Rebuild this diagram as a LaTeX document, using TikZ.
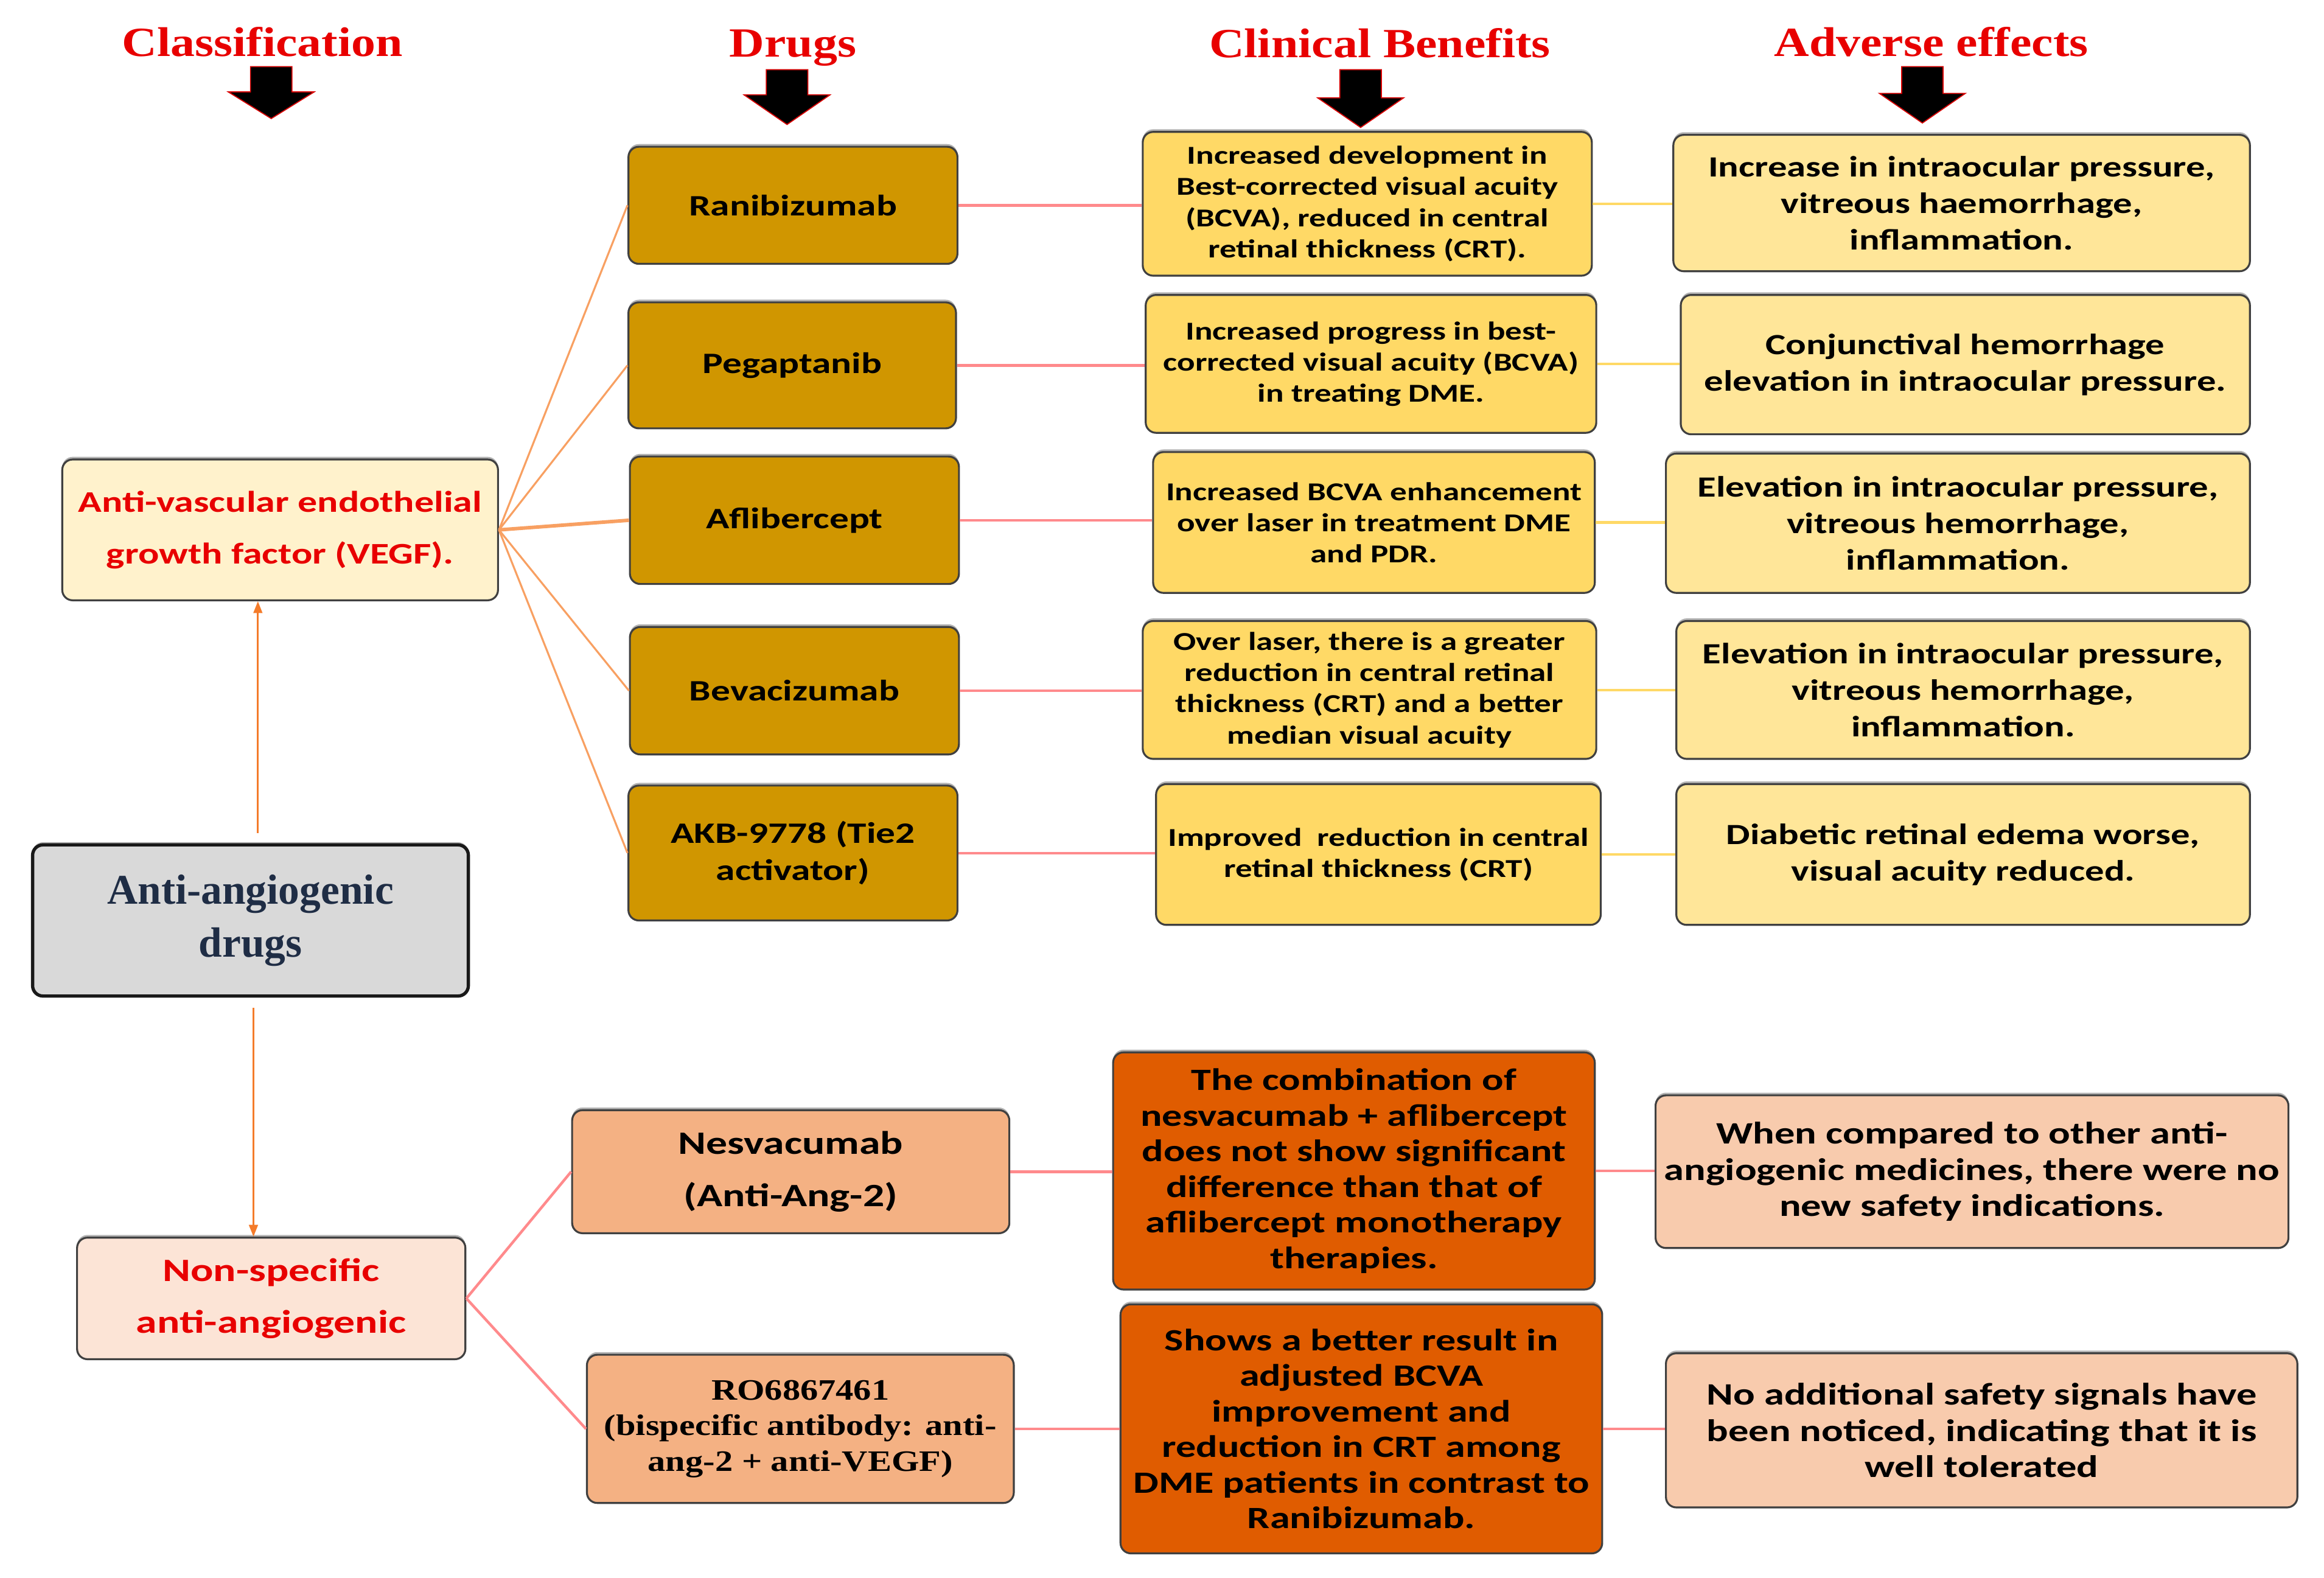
\documentclass[tikz,border=0pt]{standalone}
\usepackage{fontspec}
\setmainfont{Carlito}
\newfontfamily\calfont[FakeStretch=1.3]{Carlito}
\newfontfamily\hdrfont[FakeStretch=1.17]{Liberation Serif}
\newfontfamily\tmsfont{Liberation Serif}
\newfontfamily\robfont[FakeStretch=1.2]{Liberation Serif}
\usetikzlibrary{shadows,arrows.meta}
\definecolor{drugc}{HTML}{D09600}
\definecolor{cbc}{HTML}{FFD966}
\definecolor{aec}{HTML}{FFE699}
\definecolor{vegfc}{HTML}{FFF2CC}
\definecolor{grayc}{HTML}{D9D9D9}
\definecolor{nonspc}{HTML}{FCE4D6}
\definecolor{nesc}{HTML}{F4B183}
\definecolor{lcbc}{HTML}{E05C00}
\definecolor{laec}{HTML}{F8CBAD}
\definecolor{bordc}{HTML}{404040}
\definecolor{txtred}{HTML}{E80000}
\definecolor{navyc}{HTML}{1F2D45}
\definecolor{orline}{HTML}{F8A062}
\definecolor{orarrow}{HTML}{F47B2A}
\definecolor{pinkline}{HTML}{FF8A8C}
\definecolor{yelline}{HTML}{FFD966}
\newcommand\hdrarrow[4]{%
  \filldraw[fill=black, draw=red!85!black, line width=0.7pt]
    (#1-14,#2) -- (#1+14,#2) -- (#1+14,#3) -- (#1+29,#3) -- (#1,#4) -- (#1-29,#3) -- (#1-14,#3) -- cycle;}
\begin{document}
\begin{tikzpicture}[x=1pt,y=-1pt,
  box/.style={draw=bordc, line width=1.3pt, rounded corners=7pt, inner sep=0pt, align=center,
    drop shadow={shadow xshift=0pt, shadow yshift=1.8pt, fill=black, opacity=0.3}},
  drugbox/.style={box, fill=drugc, font=\calfont\bfseries\fontsize{20}{25}\selectfont},
  cbbox/.style={box, fill=cbc, font=\calfont\bfseries\fontsize{17.4}{21}\selectfont},
  aebox/.style={box, fill=aec, font=\calfont\bfseries\fontsize{19.8}{24.5}\selectfont},
  lcbbox/.style={box, fill=lcbc, font=\calfont\bfseries\fontsize{20.9}{24}\selectfont},
  laebox/.style={box, fill=laec, font=\calfont\bfseries\fontsize{21}{24.5}\selectfont},
  hdr/.style={anchor=base, text=txtred, font=\hdrfont\bfseries\fontsize{28}{30}\selectfont},
  vline/.style={draw=orline, line width=1.3pt},
  pline/.style={draw=pinkline, line width=1.8pt},
  yline/.style={draw=yelline, line width=1.8pt},
  oarrow/.style={draw=orarrow, line width=1.2pt, -{Triangle[length=8pt,width=6pt]}}
]
\useasboundingbox (0,0) rectangle (1568,1064.6);
\fill[white] (0,0) rectangle (1568,1064.6);

% headers
\node[hdr] (h1) at (177,38) {Classification};
\node[hdr] (h2) at (535,38.5) {Drugs};
\node[hdr] (h3) at (931,39) {Clinical Benefits};
\node[hdr] (h4) at (1303,38) {Adverse effects};
\hdrarrow{183}{45}{62}{80}
\hdrarrow{531}{47}{64}{84}
\hdrarrow{918}{47}{66}{86}
\hdrarrow{1297}{45}{63}{83}

% left column
\node[box, fill=vegfc, minimum width=294pt, minimum height=95pt, text=txtred,
  font=\calfont\bfseries\fontsize{20.2}{35}\selectfont] (vegf) at (189,357.5)
  {Anti-vascular endothelial\\growth factor (VEGF).};
\node[box, draw=black!90, line width=2.2pt, fill=grayc, minimum width=294pt, minimum height=102pt, text=navyc,
  font=\tmsfont\bfseries\fontsize{28.5}{36}\selectfont] (anti) at (169,621)
  {Anti-angiogenic\\drugs};
\node[box, fill=nonspc, minimum width=262pt, minimum height=82pt, text=txtred,
  font=\calfont\bfseries\fontsize{22}{35}\selectfont] (nonsp) at (183,876)
  {Non-specific\\anti-angiogenic};

% drugs
\node[drugbox, minimum width=222pt, minimum height=79pt] (d1) at (535,138.5) {Ranibizumab};
\node[drugbox, minimum width=221pt, minimum height=85pt] (d2) at (534.5,246.5) {Pegaptanib};
\node[drugbox, minimum width=222pt, minimum height=86pt] (d3) at (536,351) {Aflibercept};
\node[drugbox, minimum width=222pt, minimum height=86pt] (d4) at (536,466) {Bevacizumab};
\node[drugbox, minimum width=222pt, minimum height=91pt] (d5) at (535,575.5) {AKB-9778 (Tie2\\activator)};

% clinical benefits
\node[cbbox, minimum width=303pt, minimum height=97pt] (c1) at (922.5,137.5)
  {Increased development in\\Best-corrected visual acuity\\(BCVA), reduced in central\\retinal thickness (CRT).};
\node[cbbox, minimum width=304pt, minimum height=93pt] (c2) at (925,245.5)
  {Increased progress in best-\\corrected visual acuity (BCVA)\\in treating DME.};
\node[cbbox, minimum width=298pt, minimum height=95pt] (c3) at (927,352.5)
  {Increased BCVA enhancement\\over laser in treatment DME\\and PDR.};
\node[cbbox, minimum width=306pt, minimum height=93pt] (c4) at (924,465.5)
  {Over laser, there is a greater\\reduction in central retinal\\thickness (CRT) and a better\\median visual acuity};
\node[cbbox, minimum width=300pt, minimum height=95pt] (c5) at (930,576.5)
  {Improved~ reduction in central\\retinal thickness (CRT)};

% adverse effects
\node[aebox, minimum width=389pt, minimum height=92pt] (a1) at (1323.5,137)
  {Increase in intraocular pressure,\\vitreous haemorrhage,\\inflammation.};
\node[aebox, minimum width=384pt, minimum height=94pt] (a2) at (1326,246)
  {Conjunctival hemorrhage\\elevation in intraocular pressure.};
\node[aebox, minimum width=394pt, minimum height=94pt] (a3) at (1321,353)
  {Elevation in intraocular pressure,\\vitreous hemorrhage,\\inflammation.};
\node[aebox, minimum width=387pt, minimum height=93pt] (a4) at (1324.5,465.5)
  {Elevation in intraocular pressure,\\vitreous hemorrhage,\\inflammation.};
\node[aebox, minimum width=387pt, minimum height=95pt] (a5) at (1324.5,576.5)
  {Diabetic retinal edema worse,\\visual acuity reduced.};

% lower part
\node[box, fill=nesc, minimum width=295pt, minimum height=83pt,
  font=\calfont\bfseries\fontsize{22}{35}\selectfont] (nes) at (533.5,790.5)
  {Nesvacumab\\(Anti-Ang-2)};
\node[box, fill=nesc, minimum width=288pt, minimum height=100pt,
  font=\robfont\bfseries\fontsize{20}{24}\selectfont] (ro) at (540,964)
  {RO6867461\\(bispecific antibody: anti-\\ang-2 + anti-VEGF)};
\node[lcbbox, minimum width=325pt, minimum height=160pt] (lc1) at (913.5,790)
  {The combination of\\nesvacumab + aflibercept\\does not show significant\\difference than that of\\aflibercept monotherapy\\therapies.};
\node[lcbbox, minimum width=325pt, minimum height=168pt] (lc2) at (918.5,964)
  {Shows a better result in\\adjusted BCVA\\improvement and\\reduction in CRT among\\DME patients in contrast to\\Ranibizumab.};
\node[laebox, minimum width=427pt, minimum height=103pt] (la1) at (1330.5,790.5)
  {When compared to other anti-\\angiogenic medicines, there were no\\new safety indications.};
\node[laebox, minimum width=426pt, minimum height=104pt] (la2) at (1337,965)
  {No additional safety signals have\\been noticed, indicating that it is\\well tolerated};

% connectors
\draw[oarrow, shorten <=7pt] ([xshift=5pt]anti.north) -- ([xshift=5pt]anti.north |- vegf.south);
\draw[oarrow, shorten <=7pt] ([xshift=2pt]anti.south) -- ([xshift=2pt]anti.south |- nonsp.north);

\draw[vline] (vegf.east) -- (d1.west);
\draw[vline] (vegf.east) -- (d2.west);
\draw[vline, line width=2.4pt] (vegf.east) -- (d3.west);
\draw[vline] (vegf.east) -- (d4.west);
\draw[vline] (vegf.east) -- (d5.west);

\foreach \i in {1,...,5}{
  \draw[pline] (d\i.east) -- (d\i.east -| c\i.west);
}
\draw[yline] (c1.east) -- (c1.east -| a1.west);
\draw[yline] (c2.east) -- (c2.east -| a2.west);
\draw[yline] (c3.east) -- (c3.east -| a3.west);
\draw[yline] (c4.east) -- (c4.east -| a4.west);
\draw[yline] (c5.east) -- (c5.east -| a5.west);

\draw[pline] (nonsp.east) -- (nes.west);
\draw[pline] (nonsp.east) -- (ro.west);
\draw[pline] (nes.east) -- (nes.east -| lc1.west);
\draw[pline] (ro.east) -- (ro.east -| lc2.west);
\draw[pline] (lc1.east) -- (lc1.east -| la1.west);
\draw[pline] (lc2.east) -- (lc2.east -| la2.west);
\end{tikzpicture}
\end{document}
